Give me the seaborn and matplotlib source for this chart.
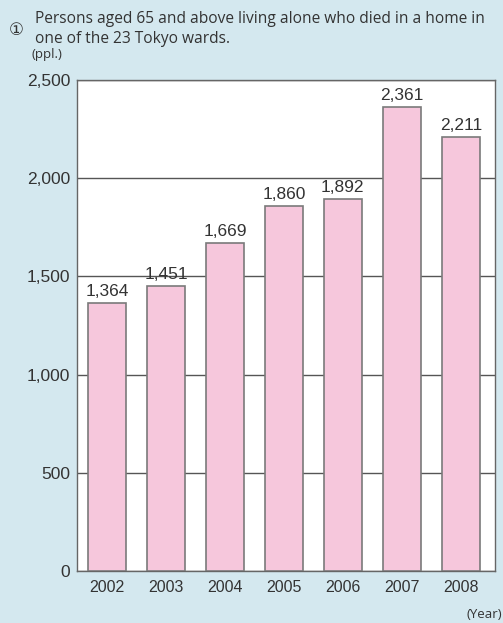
import seaborn as sns
import matplotlib.pyplot as plt
import pandas as pd
import numpy as np

years = ['2002', '2003', '2004', '2005', '2006', '2007', '2008']
deaths = [1364, 1451, 1669, 1860, 1892, 2361, 2211]
yticks = [0, 500, 1000, 1500, 2000, 2500]

df = pd.DataFrame({'year': years, 'deaths': deaths})

sns.set_theme(style='white')
plt.rcParams['font.family'] = ['Liberation Sans', 'DejaVu Sans']

bg = '#d4e8ef'
fig = plt.figure(figsize=(5.03, 6.23), dpi=100, facecolor=bg)
ax = fig.add_axes([0.153, 0.083, 0.831, 0.789])
ax.set_facecolor('white')

sns.barplot(data=df, x='year', y='deaths', color='#f6c7dc', saturation=1,
            edgecolor='#7a7a7a', linewidth=1.2, width=0.65, ax=ax, zorder=3)

# value labels
for i, v in enumerate(deaths):
    ax.text(i, v + 20, '{:,}'.format(v), ha='center', va='bottom',
            fontsize=12.5, color='#333333', zorder=4)

ax.set_ylim(0, 2500)
ax.set_xlim(-0.51, 6.58)
ax.set_yticks(yticks)
ax.set_yticklabels(['{:,}'.format(t) for t in yticks], fontsize=12.5, color='#333333')
ax.tick_params(axis='x', labelsize=11.5, colors='#333333', length=0, pad=6)
ax.tick_params(axis='y', length=4, width=1, color='#555555', direction='out', pad=1)
ax.set_xticks(np.arange(0.5, 6, 1), minor=True)
ax.tick_params(axis='x', which='minor', direction='in', length=5, width=1, color='#777777')
ax.grid(axis='y', color='#555555', linewidth=1, zorder=0)
ax.set_axisbelow(True)
for s in ax.spines.values():
    s.set_color('#666666')
    s.set_linewidth(1)
ax.set_xlabel('')
ax.set_ylabel('')

# header texts
fig.text(0.018, 0.944, '\u2460', fontsize=12, color='#333333', family=['DejaVu Sans'])
fig.text(0.07, 0.969, 'Persons aged 65 and above living alone who died in a home in',
         fontsize=11.2, color='#333333', family=['Open Sans', 'DejaVu Sans'], va='center')
fig.text(0.07, 0.938, 'one of the 23 Tokyo wards.',
         fontsize=11.2, color='#333333', family=['Open Sans', 'DejaVu Sans'], va='center')
fig.text(0.062, 0.912, '(ppl.)', fontsize=9.5, color='#333333',
         family=['Open Sans', 'DejaVu Sans'], va='center')
fig.text(0.999, 0.013, '(Year)', fontsize=9.5, color='#333333',
         family=['Open Sans', 'DejaVu Sans'], ha='right', va='center')

plt.savefig('out.png', dpi=100, facecolor=bg)
